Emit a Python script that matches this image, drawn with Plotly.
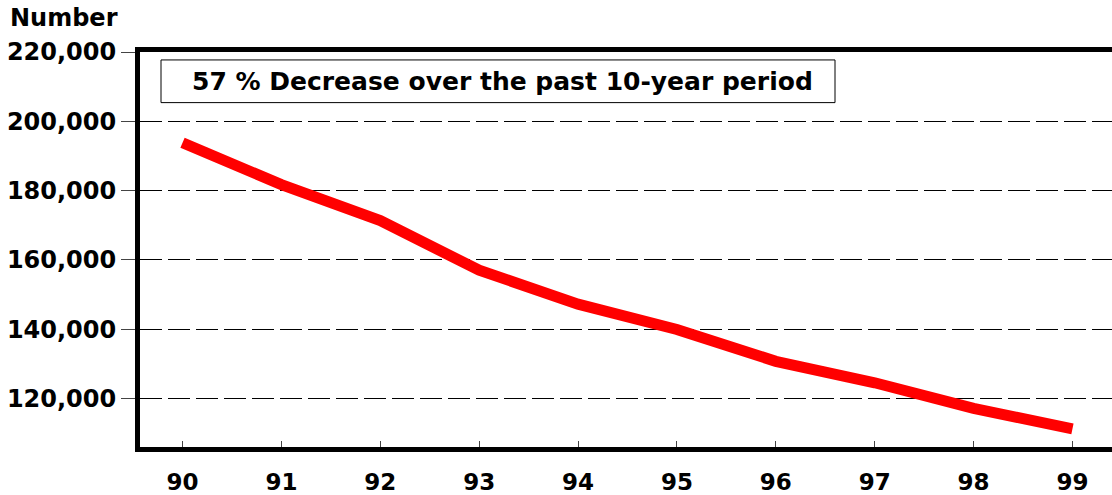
import plotly.graph_objects as go

years = ["90", "91", "92", "93", "94", "95", "96", "97", "98", "99"]
year_pos = [90, 91, 92, 93, 94, 95, 96, 97, 98, 99]
values = [193800, 181700, 171300, 157000, 147200, 139900, 130700, 124500, 117100, 111200]
y_ticks = [120000, 140000, 160000, 180000, 200000, 220000]
note_text = "57 % Decrease over the past 10-year period"
y_title = "Number"

W, H = 1112, 495
ML, MR, MT, MB = 140, 0, 52, 45
pw = W - ML - MR
ph = H - MT - MB

def px_x(p):
    return (p - ML) / pw

def px_y(p):
    return (H - MB - p) / ph

FONT = "DejaVu Sans"

fig = go.Figure()
fig.add_trace(go.Scatter(
    x=year_pos, y=values, mode="lines",
    line=dict(color="#ff0000", width=11),
    hoverinfo="skip", showlegend=False,
))

fig.update_layout(
    width=W, height=H,
    margin=dict(l=ML, r=MR, t=MT, b=MB),
    paper_bgcolor="white", plot_bgcolor="white",
    xaxis=dict(
        range=[89.57, 99.40],
        tickmode="array", tickvals=year_pos, ticktext=years,
        ticks="inside", ticklen=6, tickwidth=1, tickcolor="#444",
        showline=True, linecolor="black", linewidth=5, mirror=True,
        showgrid=False, zeroline=False,
        tickfont=dict(family=FONT, size=23, color="black", weight="bold"),
        ticklabelstandoff=10,
    ),
    yaxis=dict(
        range=[105960, 220000],
        tickmode="array", tickvals=y_ticks,
        tickformat=",d",
        ticks="outside", ticklen=14, tickwidth=1, tickcolor="#444",
        showline=True, linecolor="black", linewidth=5, mirror=False,
        showgrid=True, gridcolor="black", gridwidth=1, griddash="22px,6px",
        zeroline=False,
        tickfont=dict(family=FONT, size=24, color="black", weight="bold"),
        ticklabelstandoff=0,
    ),
    shapes=[dict(
        type="rect", xref="paper", yref="paper",
        x0=px_x(161), x1=px_x(835), y0=px_y(103), y1=px_y(60),
        line=dict(color="black", width=1), fillcolor="white", layer="above",
    )],
    annotations=[
        dict(text=note_text, xref="paper", yref="paper",
             x=px_x(190), y=px_y(81.5), xanchor="left", yanchor="middle",
             showarrow=False,
             font=dict(family=FONT, size=25, color="black", weight="bold")),
        dict(text=y_title, xref="paper", yref="paper",
             x=px_x(8), y=px_y(18), xanchor="left", yanchor="middle",
             showarrow=False,
             font=dict(family=FONT, size=24, color="black", weight="bold")),
    ],
)

fig.write_html(
    "out.html",
    config={"displayModeBar": False},
    post_script="document.body.style.margin='0';document.body.style.overflow='hidden';",
)
